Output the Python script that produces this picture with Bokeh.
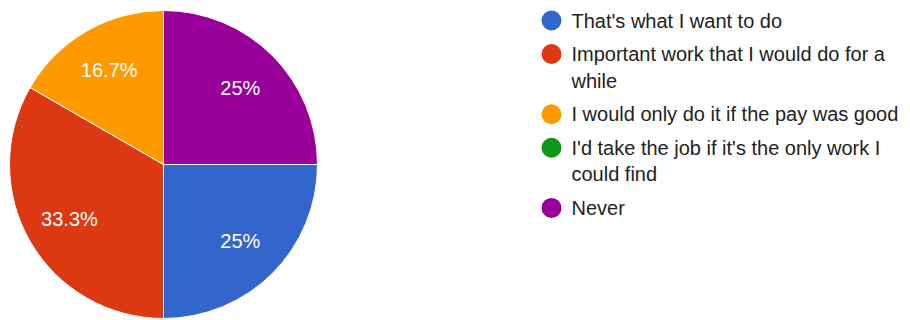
import math
from bokeh.plotting import figure
from bokeh.models import Range1d, ColumnDataSource
from bokeh.core.properties import value
from bokeh.embed import file_html
from bokeh.resources import INLINE

# ---- data ----
categories = [
    "That's what I want to do",
    "Important work that I would do for a\nwhile",
    "I would only do it if the pay was good",
    "I'd take the job if it's the only work I\ncould find",
    "Never",
]
counts = [3, 4, 2, 0, 3]
colors = ["#3366cc", "#dc3912", "#ff9900", "#109618", "#990099"]

# ---- layout ----
W, H = 910, 320
FONT = "Liberation Sans"


def dx(sx):
    return sx


def dy(sy):
    return H - sy


p = figure(width=W, height=H, output_backend="svg", toolbar_location=None,
           x_range=Range1d(0, W), y_range=Range1d(0, H), min_border=0)
p.axis.visible = False
p.grid.visible = False
p.outline_line_color = None
p.background_fill_color = "white"
p.border_fill_color = "white"

cx, cy, R = dx(163), dy(164), 154
total = sum(counts)

w = dict(start=[], end=[], color=[])
lab = dict(x=[], y=[], text=[])
cum = 0
for c, col in zip(counts, colors):
    a0 = cum / total * 2 * math.pi
    cum += c
    a1 = cum / total * 2 * math.pi
    if c == 0:
        continue
    # clockwise from 3 o'clock
    w["start"].append(-a1)
    w["end"].append(-a0)
    w["color"].append(col)
    mid = -(a0 + a1) / 2
    pct = round(c / total * 100, 1)
    txt = (f"{pct:.1f}".rstrip("0").rstrip(".")) + "%"
    lab["x"].append(cx + 0.705 * R * math.cos(mid))
    lab["y"].append(cy + 0.705 * R * math.sin(mid))
    lab["text"].append(txt)

p.wedge(x=cx, y=cy, radius=R, start_angle="start", end_angle="end",
        fill_color="color", line_color="white", line_width=1,
        source=ColumnDataSource(w))
p.text(x="x", y="y", text="text", source=ColumnDataSource(lab),
       text_color="white", text_font=value(FONT), text_font_size="20px",
       text_align="center", text_baseline="middle")

# ---- legend ----
mk = dict(x=[], y=[], color=[])
lt = dict(x=[], y=[], text=[])
y = 20.0
for cat, col in zip(categories, colors):
    lines = cat.split("\n")
    mk["x"].append(dx(551))
    mk["y"].append(dy(y))
    mk["color"].append(col)
    for i, ln in enumerate(lines):
        lt["x"].append(dx(571))
        lt["y"].append(dy(y + i * 26.7))
        lt["text"].append(ln)
    y += 33.5 + (len(lines) - 1) * 26.7

p.scatter(x="x", y="y", size=20, marker="circle", fill_color="color",
          line_color=None, source=ColumnDataSource(mk))
p.text(x="x", y="y", text="text", source=ColumnDataSource(lt),
       text_color="#222222", text_font=value(FONT), text_font_size="20px",
       text_align="left", text_baseline="middle")

open("out.html", "w").write(file_html(p, INLINE))
